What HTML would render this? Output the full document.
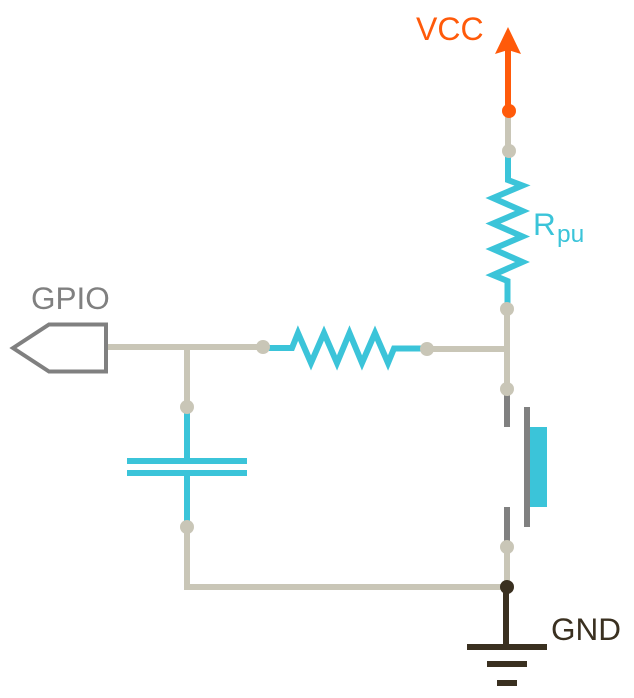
<!DOCTYPE html>
<html>
<head>
<meta charset="utf-8">
<style>
html,body{margin:0;padding:0;background:#fff}
svg{display:block}
text{font-family:"Liberation Sans",sans-serif}
</style>
</head>
<body>
<svg width="634" height="698" viewBox="0 0 634 698" xmlns="http://www.w3.org/2000/svg">
<g fill="none" stroke-width="6">
<!-- beige wires -->
<g stroke="#c9c6b7">
<path d="M107 347H263"/>
<path d="M187 347V407"/>
<path d="M187 527V587H507"/>
<path d="M427 349H507"/>
<path d="M507 309V389"/>
<path d="M507 547V587"/>
<path d="M508 111V151"/>
</g>
<!-- cyan parts -->
<g stroke="#3bc4d9">
<path d="M508 151V180L522.500 185.500L493 198L522.500 211L493 223.500L522.500 236.500L493 249L522.500 262L493 275L507.500 281V309"/>
<path d="M263 348H292L298 333L311 363L324 333L337 363L349.500 333L362 363L375 333L388 363L394 348.500H427"/>
<path d="M187 407V461M187 473V527"/>
<path d="M127 461H247M127 473H247"/>
</g>
<!-- switch -->
<g stroke="#808080">
<path d="M507 389V427M507 507V547"/>
<path d="M527 407V527"/>
</g>
<!-- GPIO -->
<path d="M13 348L49 324.500H106V371.500H49Z" stroke="#808080" stroke-width="4"/>
<!-- VCC -->
<path d="M508 111V50" stroke="#ff5a0a"/>
<!-- GND -->
<g stroke="#3a3020">
<path d="M506 587V647"/>
<path d="M467 647H547M487 664H527M497 683H517"/>
</g>
</g>
<rect x="530" y="427" width="17" height="80" fill="#3bc4d9"/>
<path d="M508 27L521 54L508 50L495 54Z" fill="#ff5a0a"/>
<g fill="#c9c6b7">
<circle cx="509" cy="151" r="7"/>
<circle cx="507" cy="309" r="7"/>
<circle cx="507" cy="389" r="7"/>
<circle cx="507" cy="547" r="7"/>
<circle cx="263" cy="347" r="7"/>
<circle cx="427" cy="349" r="7"/>
<circle cx="187" cy="407" r="7"/>
<circle cx="187" cy="527" r="7"/>
</g>
<circle cx="509" cy="111" r="7" fill="#ff5a0a"/>
<circle cx="507" cy="587" r="7" fill="#3a3020"/>
<text x="416" y="40" font-size="32" fill="#ff5a0a">VCC</text>
<text x="31" y="309" font-size="31.500" fill="#808080">GPIO</text>
<text x="533" y="235" font-size="31.500" fill="#3bc4d9">R</text>
<text x="557" y="242" font-size="24.500" fill="#3bc4d9">pu</text>
<text x="551" y="640" font-size="31.500" fill="#3a3020">GND</text>
</svg>
</body>
</html>
